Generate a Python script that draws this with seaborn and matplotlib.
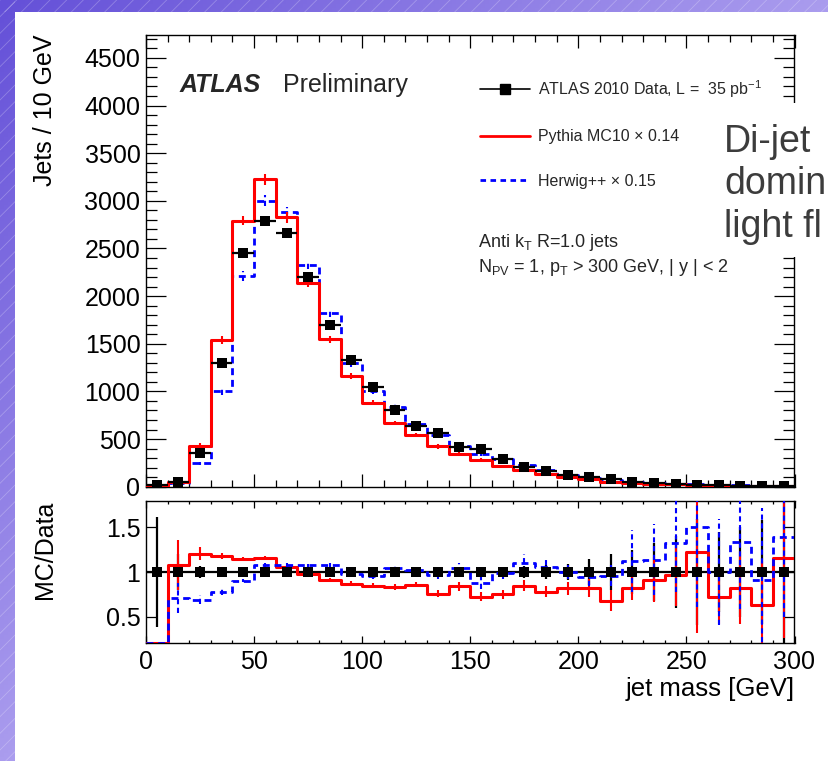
import numpy as np
import matplotlib
matplotlib.use("Agg")
import matplotlib.pyplot as plt
import matplotlib.colors as mcolors
from matplotlib.lines import Line2D
from matplotlib.patches import Rectangle
from matplotlib.ticker import MultipleLocator
import seaborn as sns

# jet mass bins, 10 GeV wide
edges = np.arange(0, 310, 10)
centres = edges[:-1] + 5

# Jets / 10 GeV
data = [15, 45, 350, 1300, 2450, 2790, 2660, 2200, 1700, 1330, 1050, 805, 638, 561, 414,
        396, 291, 204, 168, 123, 99, 78, 46, 36, 25, 18, 14, 12, 10, 8]
pythia = [0, 50, 430, 1540, 2790, 3225, 2825, 2140, 1545, 1160, 880, 670, 547, 423, 348,
          284, 217, 173, 131, 100, 81, 53, 38, 33, 24, 22, 10, 10, 6, 9]
herwig = [0, 35, 245, 1005, 2210, 3000, 2885, 2325, 1825, 1300, 1000, 840, 655, 544, 432,
          347, 288, 224, 177, 123, 93, 75, 52, 41, 33, 27, 14, 16, 9, 11]
data_rel_err = [0.62, 0.2, 0.065, 0.03, 0.02, 0.02, 0.02, 0.02, 0.025, 0.03, 0.03, 0.035, 0.04, 0.04, 0.05,
                0.05, 0.06, 0.07, 0.08, 0.09, 0.15, 0.2, 0.25, 0.33, 0.4, 0.6, 0.45, 0.5, 0.58, 1.0]

# MC / Data
pythia_ratio = [0, 1.08, 1.205, 1.18, 1.145, 1.16, 1.056, 0.978, 0.914, 0.869, 0.847, 0.832, 0.858, 0.754, 0.84,
                0.72, 0.75, 0.846, 0.78, 0.817, 0.817, 0.68, 0.817, 0.914, 0.963, 1.22, 0.715, 0.82, 0.625, 1.157]
pythia_ratio_err = [0, 0.28, 0.07, 0.03, 0.02, 0.02, 0.02, 0.02, 0.02, 0.025, 0.025, 0.03, 0.03, 0.04, 0.05,
                    0.05, 0.05, 0.06, 0.06, 0.07, 0.1, 0.12, 0.13, 0.25, 0.35, 0.9, 0.3, 0.4, 0.5, 0.9]
herwig_ratio = [0, 0.71, 0.687, 0.776, 0.903, 1.08, 1.08, 1.075, 1.075, 0.978, 0.952, 1.044, 1.026, 0.97, 1.044,
                0.876, 0.99, 1.10, 1.056, 1.0, 0.944, 0.96, 1.12, 1.14, 1.326, 1.506, 1.0, 1.337, 0.914, 1.39]
herwig_ratio_err = [0, 0.17, 0.05, 0.03, 0.02, 0.02, 0.02, 0.02, 0.025, 0.03, 0.03, 0.04, 0.04, 0.05, 0.06,
                    0.07, 0.07, 0.1, 0.08, 0.08, 0.1, 0.12, 0.35, 0.4, 0.55, 0.9, 0.6, 0.75, 0.8, 0.9]

main_yticks = [0, 500, 1000, 1500, 2000, 2500, 3000, 3500, 4000, 4500]
ratio_yticks = [0.5, 1, 1.5]
ratio_yticklabels = ["0.5", "1", "1.5"]
xticks = [0, 50, 100, 150, 200, 250, 300]

sns.set_theme(style="ticks")
plt.rcParams["font.family"] = ["Liberation Sans", "DejaVu Sans"]
plt.rcParams["mathtext.fontset"] = "custom"
plt.rcParams["mathtext.rm"] = "Liberation Sans"
plt.rcParams["mathtext.it"] = "Liberation Sans:italic"
plt.rcParams["mathtext.bf"] = "Liberation Sans:bold"
plt.rcParams["hatch.linewidth"] = 0.6

W, H = 829, 761
fig = plt.figure(figsize=(W / 100, H / 100), dpi=100)


def fx(px):
    return px / W


def fy(py):
    return 1 - py / H


# slide background: purple gradient with diagonal stripes, white page
bg = fig.add_axes([0, 0, 1, 1], zorder=-10)
bg.set_axis_off()
gx, gy = np.meshgrid(np.linspace(0, 1, 200), np.linspace(0, 1, 200))
u = np.clip(gx + gy, 0, 1)[..., None]
c0 = np.array(mcolors.to_rgb("#6450d8"))
c1 = np.array(mcolors.to_rgb("#aa9cee"))
bg.imshow(c0 + (c1 - c0) * u, extent=[0, 1, 0, 1], origin="upper", aspect="auto")
bg.set_xlim(0, 1)
bg.set_ylim(0, 1)
for x0, y0, w, h in [(0, 0, fx(15), 1), (0, fy(12), 1, 1 - fy(12))]:
    bg.add_patch(Rectangle((x0, y0), w, h, facecolor="none", edgecolor=(1, 1, 1, 0.25), lw=0, hatch="//"))
bg.add_patch(Rectangle((fx(15), 0), 1 - fx(15), fy(12), facecolor="white", lw=0))

ax = fig.add_axes([fx(146), fy(486.7), fx(794.5) - fx(146), fy(35) - fy(486.7)])
rax = fig.add_axes([fx(146), fy(643.3), fx(794.5) - fx(146), fy(500.7) - fy(643.3)])

dash = (0, (2.5, 1.7))
data_arr = np.array(data, dtype=float)
data_err = np.array(data_rel_err) * data_arr


def steps(vals):
    return np.append(vals, vals[-1])


# ---- main panel
sns.lineplot(x=edges, y=steps(pythia), drawstyle="steps-post", color="red", lw=2.2,
             estimator=None, sort=False, ax=ax, zorder=3)
sns.lineplot(x=edges, y=steps(herwig), drawstyle="steps-post", color="blue", lw=2.0,
             linestyle=dash, estimator=None, sort=False, ax=ax, zorder=2)
ax.errorbar(centres, pythia, yerr=np.array(pythia_ratio_err) * data_arr, fmt="none",
            ecolor="red", elinewidth=1.5, zorder=3)
eb = ax.errorbar(centres, herwig, yerr=np.array(herwig_ratio_err) * data_arr, fmt="none",
                 ecolor="blue", elinewidth=1.5, zorder=2)
eb[2][0].set_linestyle(dash)
ax.errorbar(centres, data, xerr=5, yerr=data_err, fmt="none", ecolor="black", elinewidth=1.6, zorder=4)
sns.scatterplot(x=centres, y=data, marker="s", s=62, color="black", edgecolor="black",
                linewidth=0, ax=ax, zorder=5)

ax.set_xlim(0, 300)
ax.set_ylim(0, 4740)
ax.set_yticks(main_yticks)
ax.set_xticks(xticks)
ax.xaxis.set_minor_locator(MultipleLocator(10))
ax.yaxis.set_minor_locator(MultipleLocator(100))
ax.tick_params(axis="both", which="both", direction="in", top=True, right=True,
               labelbottom=False, width=0.9, color="black", labelcolor="black")
ax.tick_params(axis="y", which="major", length=14.4, labelsize=18, pad=4)
ax.tick_params(axis="y", which="minor", length=8)
ax.tick_params(axis="x", which="major", length=9.4)
ax.tick_params(axis="x", which="minor", length=5)
ax.set_ylabel("Jets / 10 GeV", fontsize=18, loc="top", color="black")
ax.yaxis.set_label_coords(-0.137, 1.0)

handles = [Line2D([], [], color="black", lw=1.2, marker="s", markersize=7),
           Line2D([], [], color="red", lw=2.0),
           Line2D([], [], color="blue", lw=2.0, linestyle=(0, (2.0, 1.6)))]
labels = [r"ATLAS 2010 Data, L =  35 pb$^{-1}$", "Pythia MC10 × 0.14", "Herwig++ × 0.15"]
ax.legend(handles, labels, loc="upper left", bbox_to_anchor=(fx(480), fy(78)),
          bbox_transform=fig.transFigure, frameon=False, fontsize=11.5, handlelength=3.1,
          handletextpad=0.5, labelspacing=1.85, borderpad=0, borderaxespad=0, numpoints=1)

# ---- ratio panel
sns.lineplot(x=edges, y=steps(np.clip(pythia_ratio, 0.2, 1.8)), drawstyle="steps-post", color="red",
             lw=2.2, estimator=None, sort=False, ax=rax, zorder=3)
sns.lineplot(x=edges, y=steps(np.clip(herwig_ratio, 0.2, 1.8)), drawstyle="steps-post", color="blue",
             lw=2.0, linestyle=dash, estimator=None, sort=False, ax=rax, zorder=3)
rax.errorbar(centres, np.ones(len(centres)), xerr=5, yerr=data_rel_err, fmt="none",
             ecolor="black", elinewidth=1.6, zorder=2)
rax.errorbar(centres, pythia_ratio, yerr=pythia_ratio_err, fmt="none", ecolor="red",
             elinewidth=1.5, zorder=4)
eb = rax.errorbar(centres, herwig_ratio, yerr=herwig_ratio_err, fmt="none", ecolor="blue",
                  elinewidth=1.5, zorder=4)
eb[2][0].set_linestyle(dash)
sns.scatterplot(x=centres, y=np.ones(len(centres)), marker="s", s=62, color="black",
                edgecolor="black", linewidth=0, ax=rax, zorder=5)

rax.set_xlim(0, 300)
rax.set_ylim(0.2, 1.8)
rax.set_yticks(ratio_yticks)
rax.set_yticklabels(ratio_yticklabels)
rax.set_xticks(xticks)
rax.set_xticklabels([str(t) for t in xticks])
rax.xaxis.set_minor_locator(MultipleLocator(10))
rax.tick_params(axis="both", which="both", direction="in", top=True, right=True,
                width=0.9, color="black", labelcolor="black")
rax.tick_params(axis="y", which="major", length=7, labelsize=18, pad=4)
rax.tick_params(axis="x", which="major", length=5, labelsize=18, pad=5)
rax.tick_params(axis="x", which="minor", length=2.5)
rax.set_ylabel("MC/Data", fontsize=18, loc="top", color="black")
rax.yaxis.set_label_coords(-0.137, 1.0)
rax.set_xlabel("jet mass [GeV]", fontsize=18.5, loc="right", color="black", labelpad=2)

for a in (ax, rax):
    for sp in a.spines.values():
        sp.set_linewidth(1.0)
        sp.set_color("black")

# ---- annotations
fig.text(fx(180), fy(92.3), "ATLAS", fontsize=18, weight="bold", style="italic", va="baseline")
fig.text(fx(283), fy(92.3), "Preliminary", fontsize=18, va="baseline")
fig.text(fx(478), fy(247), r"Anti k$_{\mathrm{T}}$ R=1.0 jets", fontsize=13, va="baseline")
fig.text(fx(478), fy(272), r"N$_{\mathrm{PV}}$ = 1, p$_{\mathrm{T}}$ > 300 GeV, | y | < 2",
         fontsize=13, va="baseline")

# slide text box over the right edge of the plot
fig.patches.append(Rectangle((fx(700), fy(257)), 1 - fx(700), fy(103) - fy(257),
                             transform=fig.transFigure, facecolor="white", lw=0, zorder=10))
for txt, base in [("Di-jet", 152), ("domin", 194), ("light fl", 237)]:
    fig.text(fx(724), fy(base), txt, fontsize=27, color="#3c3c3c", va="baseline", zorder=11)

fig.savefig("out.png", dpi=100)
